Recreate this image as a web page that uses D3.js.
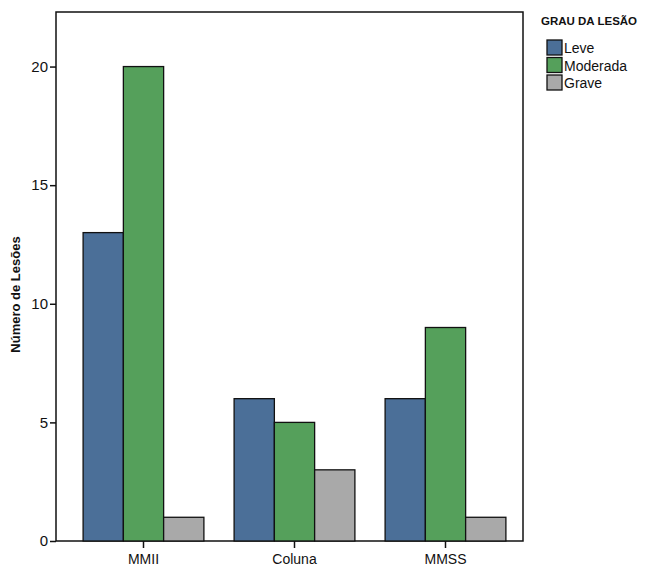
<!DOCTYPE html>
<html>
<head>
<meta charset="utf-8">
<script src="https://cdn.jsdelivr.net/npm/d3@7"></script>
<style>
  html, body { margin: 0; padding: 0; background: #ffffff; }
  svg { display: block; }
  text { font-family: "Liberation Sans", Arial, sans-serif; fill: #111; }
</style>
</head>
<body>
<svg id="chart" width="663" height="574"></svg>
<script>
const categories = ["MMII", "Coluna", "MMSS"];
const seriesNames = ["Leve", "Moderada", "Grave"];
const leve = [13, 6, 6];
const moderada = [20, 5, 9];
const grave = [1, 3, 1];
const yTicks = [0, 5, 10, 15, 20];
const colors = ["#4b6f98", "#55a05b", "#a9a9a9"];

const seriesValues = [leve, moderada, grave];
const data = categories.map((c, i) => ({
  cat: c,
  vals: seriesNames.map((s, j) => ({ key: s, value: seriesValues[j][i], idx: j }))
}));

const svg = d3.select("#chart");
const frame = { left: 56, right: 523, top: 12, bottom: 541 };

const x0 = d3.scaleBand().domain(categories).range([68, 521]).paddingInner(0.2).paddingOuter(0.1);
const x1 = d3.scaleBand().domain(seriesNames).range([0, x0.bandwidth()]);
const y = d3.scaleLinear().domain([0, 22.3]).range([frame.bottom, frame.top]);

// frame
svg.append("rect")
  .attr("x", frame.left).attr("y", frame.top)
  .attr("width", frame.right - frame.left).attr("height", frame.bottom - frame.top)
  .attr("fill", "#ffffff").attr("stroke", "#111").attr("stroke-width", 1.5);

// bars
const g = svg.append("g");
g.selectAll("g.grp").data(data).join("g")
  .attr("class", "grp")
  .attr("transform", d => `translate(${x0(d.cat)},0)`)
  .selectAll("rect").data(d => d.vals).join("rect")
  .attr("x", d => x1(d.key))
  .attr("width", x1.bandwidth())
  .attr("y", d => y(d.value))
  .attr("height", d => y(0) - y(d.value))
  .attr("fill", d => colors[d.idx])
  .attr("stroke", "#111").attr("stroke-width", 1.3);

// y axis
const yAxis = d3.axisLeft(y).tickValues(yTicks).tickSize(6).tickPadding(2).tickFormat(d3.format("d"));
const ya = svg.append("g").attr("transform", `translate(${frame.left},0)`).call(yAxis);
ya.select(".domain").remove();
ya.selectAll(".tick line").attr("stroke", "#111").attr("stroke-width", 1.5);
ya.selectAll(".tick text").attr("font-size", 15).attr("font-family", "Liberation Sans, Arial, sans-serif").attr("fill", "#111");

// x axis
const xAxis = d3.axisBottom(x0).tickSize(7).tickPadding(6);
const xa = svg.append("g").attr("transform", `translate(0,${frame.bottom})`).call(xAxis);
xa.select(".domain").remove();
xa.selectAll(".tick line").attr("stroke", "#111").attr("stroke-width", 1.5);
xa.selectAll(".tick text").attr("font-size", 14).attr("font-family", "Liberation Sans, Arial, sans-serif").attr("fill", "#111");

// y title
svg.append("text")
  .attr("transform", `translate(20,${(frame.top + frame.bottom) / 2 + 18}) rotate(-90)`)
  .attr("text-anchor", "middle")
  .attr("font-size", 13).attr("font-weight", "bold")
  .text("Número de Lesões");

// legend
const lg = svg.append("g").attr("transform", "translate(541,0)");
lg.append("text").attr("x", 0).attr("y", 25).attr("font-size", 11.5).attr("font-weight", "bold").text("GRAU DA LESÃO");
const items = lg.selectAll("g.item").data(seriesNames).join("g")
  .attr("class", "item")
  .attr("transform", (d, i) => `translate(6,${40 + i * 17.5})`);
items.append("rect").attr("width", 15).attr("height", 15)
  .attr("fill", (d, i) => colors[i]).attr("stroke", "#111").attr("stroke-width", 1.3);
items.append("text").attr("x", 17).attr("y", 13).attr("font-size", 14).text(d => d);
</script>
</body>
</html>
